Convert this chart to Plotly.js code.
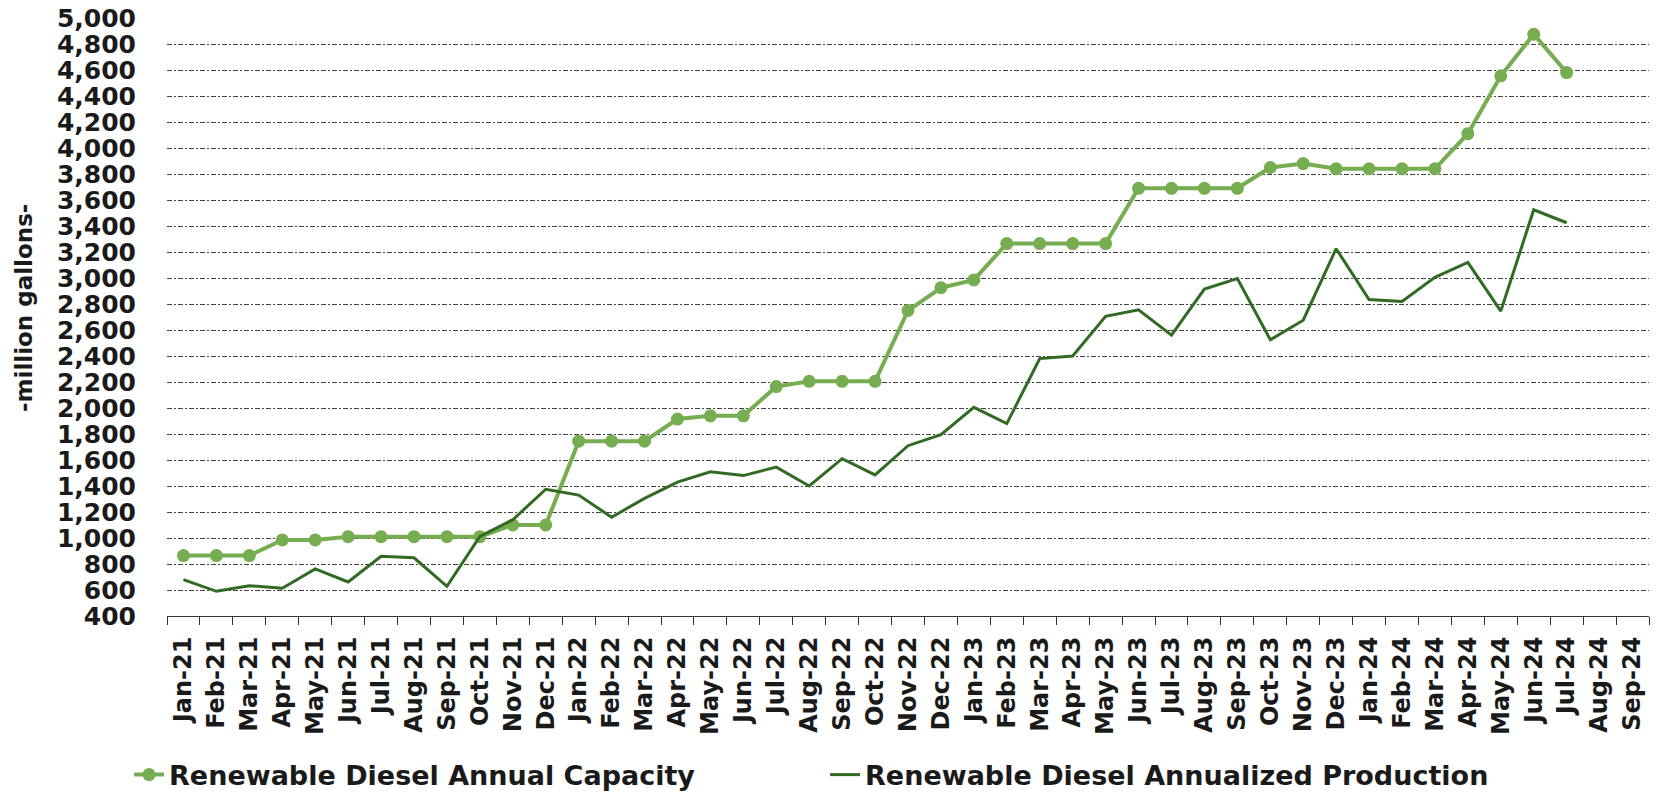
<!DOCTYPE html>
<html>
<head>
<meta charset="utf-8">
<script src="https://cdn.plot.ly/plotly-3.0.1.min.js"></script>
<style>html,body{margin:0;padding:0;background:#fff;}#chart{width:1662px;height:799px;}</style>
</head>
<body>
<div id="chart"></div>
<script>
const months = ["Jan-21","Feb-21","Mar-21","Apr-21","May-21","Jun-21","Jul-21","Aug-21","Sep-21","Oct-21","Nov-21","Dec-21",
"Jan-22","Feb-22","Mar-22","Apr-22","May-22","Jun-22","Jul-22","Aug-22","Sep-22","Oct-22","Nov-22","Dec-22",
"Jan-23","Feb-23","Mar-23","Apr-23","May-23","Jun-23","Jul-23","Aug-23","Sep-23","Oct-23","Nov-23","Dec-23",
"Jan-24","Feb-24","Mar-24","Apr-24","May-24","Jun-24","Jul-24","Aug-24","Sep-24"];

const capacity = [865,865,865,985,985,1010,1010,1010,1010,1010,1100,1100,
1745,1745,1745,1915,1940,1940,2165,2205,2205,2205,2750,2925,
2985,3265,3265,3265,3265,3690,3690,3690,3690,3850,3880,3840,
3840,3840,3840,4110,4555,4875,4580,null,null];

const production = [680,590,633,613,762,662,860,848,628,1013,1140,1375,
1330,1160,1305,1430,1510,1480,1545,1400,1610,1485,1710,1795,
2005,1880,2380,2400,2705,2755,2560,2915,2995,2525,2675,3225,
2835,2820,3005,3120,2745,3525,3425,null,null];

const yTicks = [400,600,800,1000,1200,1400,1600,1800,2000,2200,2400,2600,2800,3000,3200,3400,3600,3800,4000,4200,4400,4600,4800,5000];

const seriesNames = ["Renewable Diesel Annual Capacity","Renewable Diesel Annualized Production"];
const yTitle = "-million gallons-";
const FONT = "DejaVu Sans, Liberation Sans, Arial, sans-serif";
const INK = "#1a1a1a";

const traces = [
  {x: months, y: capacity, name: seriesNames[0], type: "scatter", mode: "lines+markers",
   line: {color: "#76AD50", width: 4}, marker: {color: "#76AD50", size: 13}},
  {x: months, y: production, name: seriesNames[1], type: "scatter", mode: "lines",
   line: {color: "#316A23", width: 3}}
];

const layout = {
  width: 1662, height: 799,
  margin: {l: 167, r: 13, t: 18, b: 183, autoexpand: false},
  paper_bgcolor: "#fff", plot_bgcolor: "#fff",
  font: {family: FONT, color: INK},
  showlegend: true,
  legend: {orientation: "h", x: -0.0256, xanchor: "left", y: -0.266, yanchor: "middle",
    font: {family: FONT, size: 27, weight: 700, color: INK},
    entrywidth: 651, entrywidthmode: "pixels", itemwidth: 30, tracegroupgap: 0},
  xaxis: {type: "category", tickangle: -90, tickson: "boundaries", automargin: false,
    ticks: "outside", ticklen: 8, tickcolor: "#333", showline: true, linecolor: "#333", linewidth: 1,
    showgrid: false, zeroline: false, ticklabelstandoff: 10,
    tickfont: {family: FONT, size: 24, weight: 700, color: INK},
    range: [-0.5, 44.5]},
  yaxis: {range: [400, 5000], tickvals: yTicks, tickformat: ",d", automargin: false,
    showgrid: true, gridcolor: "#444", gridwidth: 1, griddash: "5px,2px,2px,2px",
    showline: false, zeroline: false, ticks: "", ticklabelstandoff: 30,
    tickfont: {family: FONT, size: 25, weight: 700, color: INK}},
  annotations: [{text: yTitle, xref: "paper", yref: "paper",
    x: (24-167)/1482, y: 1-(308-18)/598, xanchor: "center", yanchor: "middle",
    textangle: -90, showarrow: false,
    font: {family: FONT, size: 23, weight: 700, color: INK}}]
};

Plotly.newPlot("chart", traces, layout, {displayModeBar: false, staticPlot: true});
</script>
</body>
</html>
